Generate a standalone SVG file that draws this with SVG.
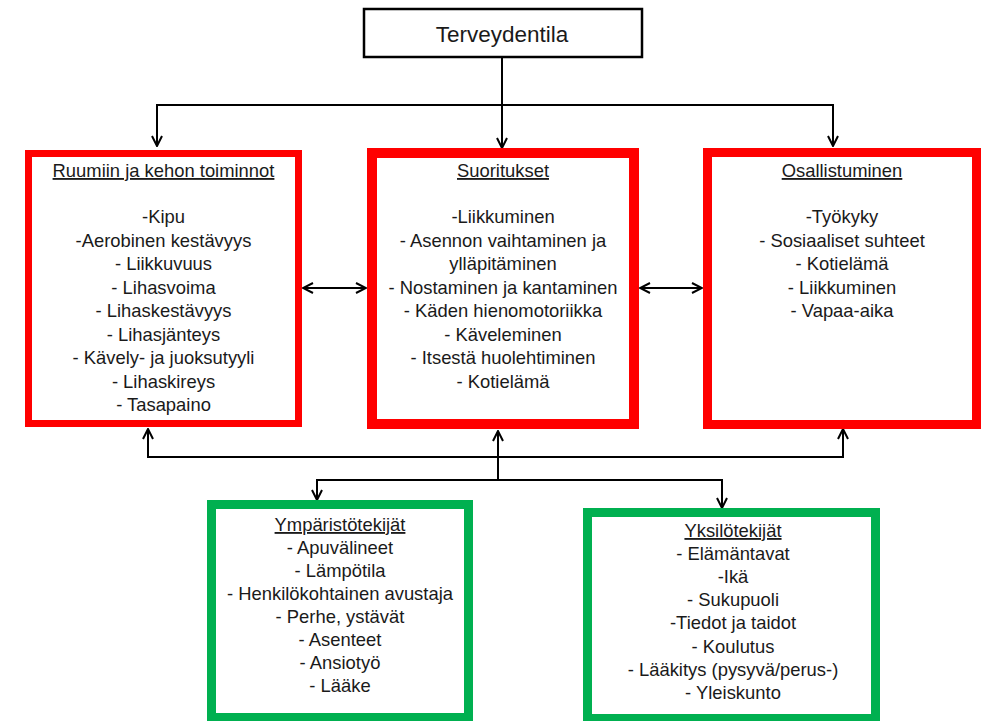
<svg xmlns="http://www.w3.org/2000/svg" width="982" height="721" viewBox="0 0 982 721">
<style>
  text { font-family: "Liberation Sans", Arial, sans-serif; font-size: 18.4px; fill: #1a1a1a; text-anchor: middle; }
  .hdr { text-decoration: underline; }
  .title { font-size: 22.5px; }
  .red { fill: #ffffff; stroke: #ff0000; }
  .green { fill: #ffffff; stroke: #00b050; stroke-width: 9; }
  .conn { fill: none; stroke: #000; stroke-width: 2; }
</style>
<defs>
  <marker id="ah" viewBox="0 0 12 12" refX="11" refY="6" markerWidth="12" markerHeight="12" markerUnits="userSpaceOnUse" orient="auto-start-reverse">
    <path d="M1,1 L11,6 L1,11" fill="none" stroke="#000" stroke-width="2"/>
  </marker>
</defs>
<rect width="982" height="721" fill="#ffffff"/>

<g id="connectors">
  <line class="conn" x1="502" y1="58" x2="502" y2="148" marker-end="url(#ah)"/>
  <path class="conn" d="M157,146 V105 H833 V146" marker-start="url(#ah)" marker-end="url(#ah)"/>
  <line class="conn" x1="303" y1="288" x2="366" y2="288" marker-start="url(#ah)" marker-end="url(#ah)"/>
  <line class="conn" x1="640" y1="288" x2="702" y2="288" marker-start="url(#ah)" marker-end="url(#ah)"/>
  <path class="conn" d="M148,429 V457 H843 V429" marker-start="url(#ah)" marker-end="url(#ah)"/>
  <line class="conn" x1="498" y1="480" x2="498" y2="431" marker-end="url(#ah)"/>
  <path class="conn" d="M317,500 V480 H722 V508" marker-start="url(#ah)" marker-end="url(#ah)"/>
</g>

<g id="terveydentila">
  <rect x="364" y="9" width="278" height="48" fill="#ffffff" stroke="#000" stroke-width="2.5"/>
  <text class="title" x="502" y="42">Terveydentila</text>
</g>

<g id="ruumiin">
  <rect class="red" x="28.5" y="153.5" width="270" height="270" stroke-width="7"/>
  <text class="hdr" x="163.5" y="177">Ruumiin ja kehon toiminnot</text>
  <text x="163.5" y="223">-Kipu</text>
  <text x="163.5" y="246.5">-Aerobinen kestävyys</text>
  <text x="163.5" y="270">- Liikkuvuus</text>
  <text x="163.5" y="293.5">- Lihasvoima</text>
  <text x="163.5" y="317">- Lihaskestävyys</text>
  <text x="163.5" y="340.5">- Lihasjänteys</text>
  <text x="163.5" y="364">- Kävely- ja juoksutyyli</text>
  <text x="163.5" y="387.5">- Lihaskireys</text>
  <text x="163.5" y="411">- Tasapaino</text>
</g>

<g id="suoritukset">
  <rect class="red" x="372" y="153" width="262" height="271" stroke-width="10"/>
  <text class="hdr" x="503" y="177">Suoritukset</text>
  <text x="503" y="223">-Liikkuminen</text>
  <text x="503" y="246.5">- Asennon vaihtaminen ja</text>
  <text x="503" y="270">ylläpitäminen</text>
  <text x="503" y="293.5">- Nostaminen ja kantaminen</text>
  <text x="503" y="317">- Käden hienomotoriikka</text>
  <text x="503" y="340.5">- Käveleminen</text>
  <text x="503" y="364">- Itsestä huolehtiminen</text>
  <text x="503" y="387.5">- Kotielämä</text>
</g>

<g id="osallistuminen">
  <rect class="red" x="707.5" y="152.5" width="269" height="272" stroke-width="9"/>
  <text class="hdr" x="842" y="177">Osallistuminen</text>
  <text x="842" y="223">-Työkyky</text>
  <text x="842" y="246.5">- Sosiaaliset suhteet</text>
  <text x="842" y="270">- Kotielämä</text>
  <text x="842" y="293.5">- Liikkuminen</text>
  <text x="842" y="317">- Vapaa-aika</text>
</g>

<g id="ymparistotekijat">
  <rect class="green" x="211.5" y="504.5" width="257" height="213"/>
  <text class="hdr" x="340" y="531">Ympäristötekijät</text>
  <text x="340" y="554">- Apuvälineet</text>
  <text x="340" y="577">- Lämpötila</text>
  <text x="340" y="600">- Henkilökohtainen avustaja</text>
  <text x="340" y="623">- Perhe, ystävät</text>
  <text x="340" y="646">- Asenteet</text>
  <text x="340" y="669">- Ansiotyö</text>
  <text x="340" y="692">- Lääke</text>
</g>

<g id="yksilotekijat">
  <rect class="green" x="587.5" y="512.5" width="288" height="206"/>
  <text class="hdr" x="733" y="537">Yksilötekijät</text>
  <text x="733" y="560">- Elämäntavat</text>
  <text x="733" y="583">-Ikä</text>
  <text x="733" y="606">- Sukupuoli</text>
  <text x="733" y="629">-Tiedot ja taidot</text>
  <text x="733" y="653">- Koulutus</text>
  <text x="733" y="676">- Lääkitys (pysyvä/perus-)</text>
  <text x="733" y="699">- Yleiskunto</text>
</g>
</svg>
